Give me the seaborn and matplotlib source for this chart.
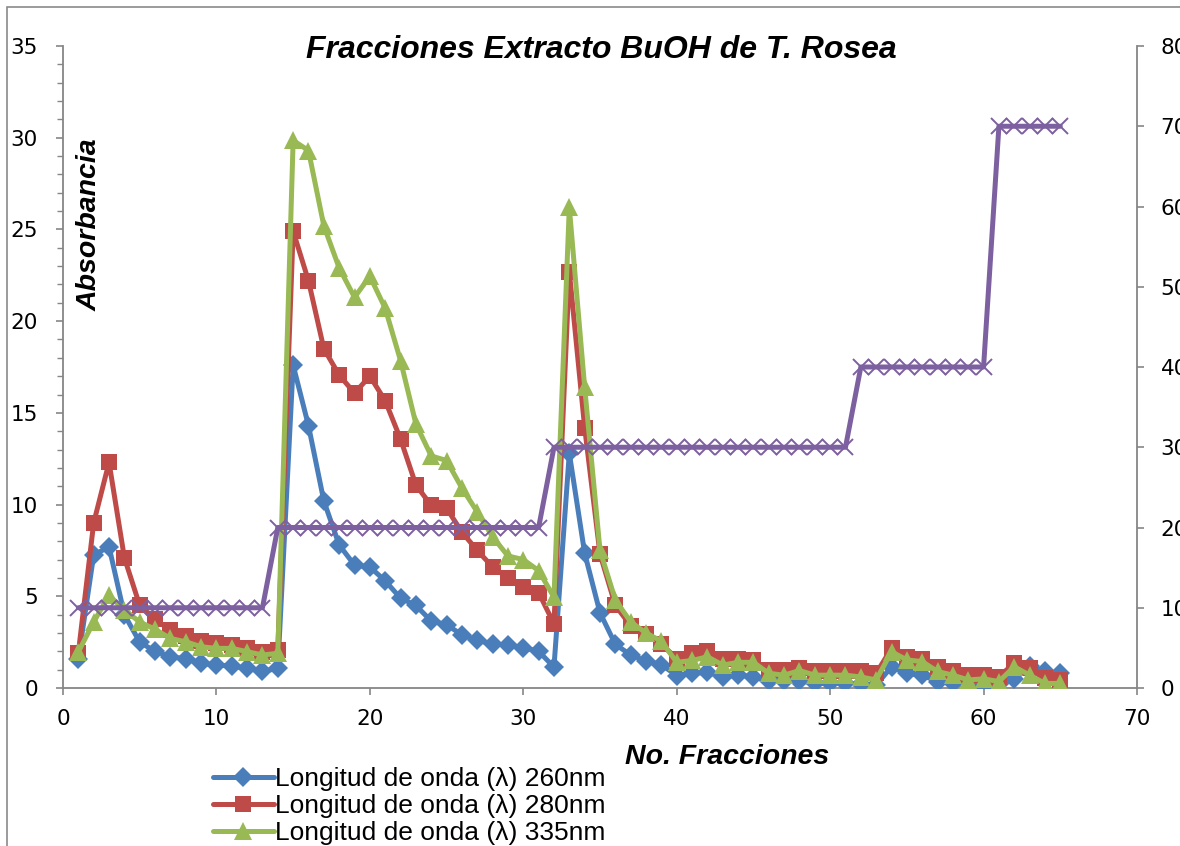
import matplotlib
matplotlib.use("Agg")
import matplotlib.pyplot as plt
import seaborn as sns
import pandas as pd
from matplotlib.ticker import MultipleLocator
from matplotlib.patches import Rectangle

# ---------------- data ----------------
fractions = [1, 2, 3, 4, 5, 6, 7, 8, 9, 10, 11, 12, 13, 14, 15, 16, 17, 18, 19, 20,
             21, 22, 23, 24, 25, 26, 27, 28, 29, 30, 31, 32, 33, 34, 35, 36, 37, 38, 39, 40,
             41, 42, 43, 44, 45, 46, 47, 48, 49, 50, 51, 52, 53, 54, 55, 56, 57, 58, 59, 60,
             61, 62, 63, 64, 65]

abs_260 = [1.6, 7.25, 7.7, 4.0, 2.5, 2.0, 1.7, 1.6, 1.35, 1.25, 1.2, 1.07, 0.9, 1.07,
           17.6, 14.3, 10.2, 7.8, 6.7, 6.6, 5.84, 4.9, 4.5, 3.65, 3.45, 2.9, 2.6, 2.4,
           2.35, 2.2, 2.0, 1.14, 12.8, 7.35, 4.1, 2.38, 1.8, 1.47, 1.27, 0.68, 0.8, 0.85,
           0.6, 0.72, 0.6, 0.4, 0.4, 0.4, 0.25, 0.25, 0.25, 0.2, 0.16, 1.16, 0.8, 0.7,
           0.35, 0.25, 0.16, 0.12, 0.2, 0.47, 1.2, 0.9, 0.8]

abs_280 = [1.9, 9.0, 12.3, 7.1, 4.5, 3.75, 3.15, 2.85, 2.55, 2.45, 2.34, 2.16, 1.98, 2.07,
           24.9, 22.2, 18.5, 17.06, 16.08, 17.0, 15.66, 13.57, 11.07, 9.95, 9.8, 8.5, 7.5,
           6.6, 6.0, 5.5, 5.2, 3.5, 22.7, 14.2, 7.3, 4.5, 3.4, 2.95, 2.4, 1.6, 1.9, 2.0,
           1.6, 1.6, 1.53, 0.98, 0.98, 1.07, 0.9, 0.9, 0.9, 0.9, 0.8, 2.16, 1.7, 1.6,
           1.16, 0.9, 0.7, 0.7, 0.62, 1.35, 1.07, 0.53, 0.44]

abs_335 = [1.97, 3.6, 5.05, 4.25, 3.6, 3.2, 2.7, 2.52, 2.25, 2.16, 2.16, 1.98, 1.8, 1.89,
           29.85, 29.3, 25.2, 22.9, 21.3, 22.45, 20.7, 17.85, 14.4, 12.65, 12.4, 10.9, 9.6,
           8.24, 7.2, 7.0, 6.4, 4.95, 26.2, 16.4, 7.5, 4.8, 3.6, 3.0, 2.55, 1.4, 1.5, 1.7,
           1.25, 1.4, 1.4, 0.8, 0.7, 0.95, 0.7, 0.7, 0.7, 0.6, 0.44, 1.98, 1.53, 1.44,
           0.9, 0.7, 0.44, 0.5, 0.35, 1.16, 0.7, 0.25, 0.25]

gradient = [10, 10, 10, 10, 10, 10, 10, 10, 10, 10, 10, 10, 10,
            20, 20, 20, 20, 20, 20, 20, 20, 20, 20, 20, 20, 20, 20, 20, 20, 20, 20,
            30, 30, 30, 30, 30, 30, 30, 30, 30, 30, 30, 30, 30, 30, 30, 30, 30, 30, 30, 30,
            40, 40, 40, 40, 40, 40, 40, 40, 40,
            70, 70, 70, 70, 70]

labels = ["Longitud de onda (\u03bb) 260nm",
          "Longitud de onda (\u03bb) 280nm",
          "Longitud de onda (\u03bb) 335nm"]
title = "Fracciones Extracto BuOH de T. Rosea"
xlabel = "No. Fracciones"
ylabel = "Absorbancia"

df = pd.DataFrame({"x": fractions, "a260": abs_260, "a280": abs_280,
                   "a335": abs_335, "grad": gradient})

# ---------------- style ----------------
sns.set_theme(style="ticks")
plt.rcParams["font.family"] = ["DejaVu Sans"]
plt.rcParams["text.color"] = "black"

W, H = 1180, 846
fig = plt.figure(figsize=(W / 100, H / 100), dpi=100)
fig.patch.set_facecolor("white")

L, R, T, B = 63, 1137, 46, 688
ax = fig.add_axes([L / W, 1 - B / H, (R - L) / W, (B - T) / H])
ax.set_facecolor("white")

blue, red, green, purple = "#4A7EBB", "#BE4B48", "#98B954", "#7D60A0"
lw = 3.6

sns.lineplot(data=df, x="x", y="a260", ax=ax, color=blue, lw=lw, marker="D",
             markersize=10.5, markeredgewidth=0, label=labels[0], zorder=3)
sns.lineplot(data=df, x="x", y="a280", ax=ax, color=red, lw=lw, marker="s",
             markersize=11.5, markeredgewidth=0, label=labels[1], zorder=4)
sns.lineplot(data=df, x="x", y="a335", ax=ax, color=green, lw=lw, marker="^",
             markersize=13, markeredgewidth=0, label=labels[2], zorder=5)

ax2 = ax.twinx()
sns.lineplot(data=df, x="x", y="grad", ax=ax2, color=purple, lw=lw, marker="x",
             markersize=12, markeredgewidth=1.4, markeredgecolor=purple,
             legend=False, zorder=6)

ax.set_xlim(0, 70)
ax.set_ylim(0, 35)
ax2.set_ylim(0, 80)
ax.xaxis.set_major_locator(MultipleLocator(10))
ax.yaxis.set_major_locator(MultipleLocator(5))
ax.yaxis.set_minor_locator(MultipleLocator(1))
ax2.yaxis.set_major_locator(MultipleLocator(10))
ax2.yaxis.set_minor_locator(MultipleLocator(2))

ax.set_xlabel("")
ax.set_ylabel("")
ax2.set_ylabel("")

spine_c = "#868686"
for a in (ax, ax2):
    a.spines["top"].set_visible(False)
    for s in ("left", "bottom", "right"):
        a.spines[s].set_color(spine_c)
        a.spines[s].set_linewidth(1.3)
ax.spines["right"].set_visible(False)
ax2.spines["left"].set_visible(False)
ax2.spines["bottom"].set_visible(False)

tick_font = 15.5
ax.tick_params(axis="both", which="major", direction="out", length=5, width=1.2,
               color=spine_c, labelsize=tick_font, labelcolor="black")
ax.tick_params(axis="y", which="major", pad=13)
ax.tick_params(axis="x", which="major", pad=10)
ax.tick_params(axis="y", which="minor", direction="out", length=4, width=1.0,
               color=spine_c)
ax2.tick_params(axis="y", which="major", direction="out", length=5, width=1.2,
                color=spine_c, labelsize=tick_font, labelcolor="black", pad=12)
ax2.tick_params(axis="y", which="minor", length=0)

# texts
fig.text(601 / W, 1 - 50 / H, title, ha="center", va="center", color="black",
         fontsize=23, fontweight="bold", fontstyle="italic", family="Liberation Sans")
fig.text(727 / W, 1 - 757 / H, xlabel, ha="center", va="center", color="black",
         fontsize=20.5, fontweight="bold", fontstyle="italic", family="Liberation Sans")
fig.text(90 / W, 1 - 225 / H, ylabel, ha="center", va="center", rotation=90,
         color="black", fontsize=20.5, fontweight="bold", fontstyle="italic",
         family="Liberation Sans")

# legend
handles, lbls = ax.get_legend_handles_labels()
ax.get_legend().remove()
leg = fig.legend(handles, lbls, loc="upper left",
                 bbox_to_anchor=(213 / W, 1 - 767 / H),
                 frameon=False, prop={"family": "Liberation Sans", "size": 19},
                 handlelength=2.3, handletextpad=0.05, labelspacing=0.12,
                 borderpad=0, borderaxespad=0)
for t in leg.get_texts():
    t.set_color("black")

# chart-area border
fig.patches.append(Rectangle((7 / W, -0.2), 1.5, (H - 7) / H + 0.2,
                             transform=fig.transFigure, fill=False,
                             edgecolor="#8a8a8a", lw=1.2))

fig.savefig("out.png", dpi=100, facecolor="white")
